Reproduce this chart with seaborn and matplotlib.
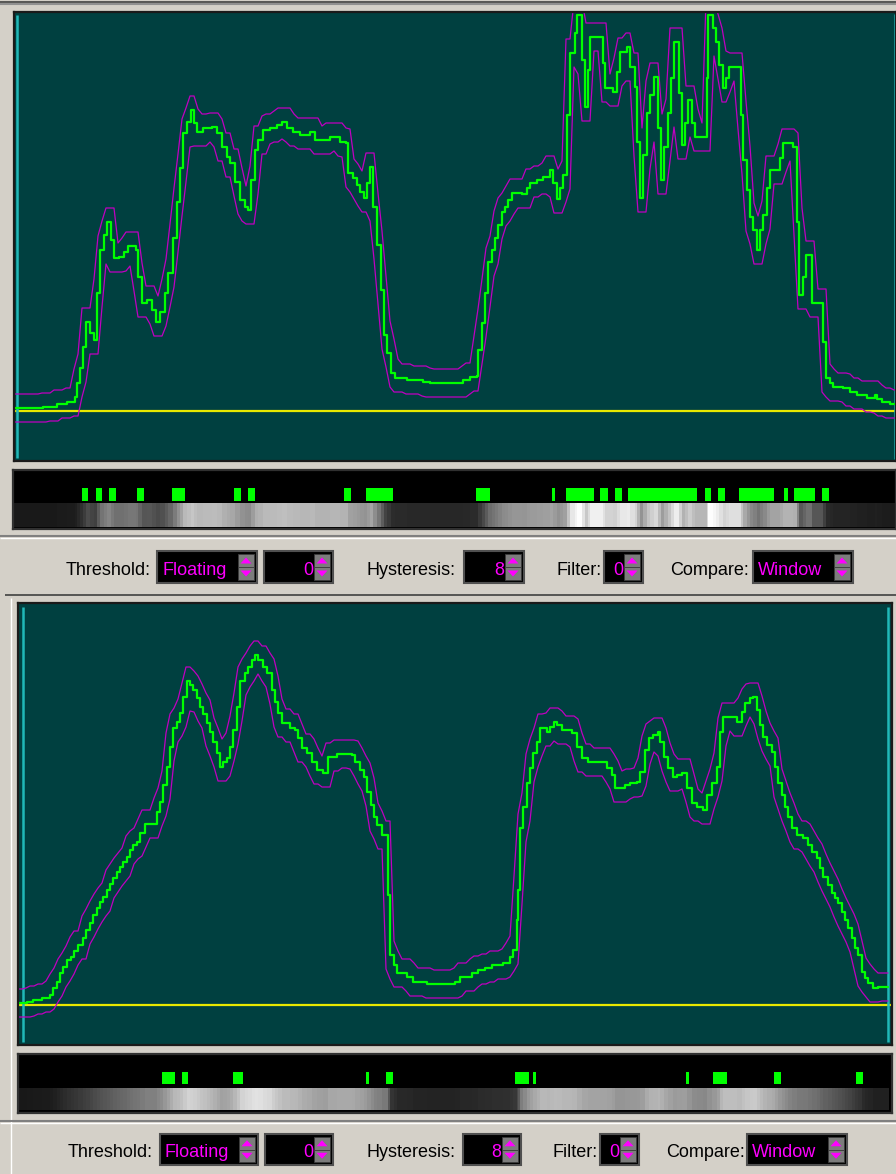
import numpy as np
import matplotlib
matplotlib.use("Agg")
import matplotlib.pyplot as plt
from matplotlib import font_manager
from matplotlib.patches import Rectangle, Polygon
import seaborn as sns

# upper trace: sample column and signal level above the yellow reference line
top_x = [14, 43, 57, 67, 75, 77, 80, 83, 86, 90,
         94, 97, 100, 104, 107, 111, 114, 119, 124, 128,
         136, 138, 142, 147, 152, 156, 160, 165, 168, 173,
         177, 180, 183, 187, 191, 194, 197, 203, 212, 217,
         222, 227, 230, 235, 240, 245, 248, 251, 255, 258,
         263, 270, 277, 282, 287, 293, 300, 310, 315, 330,
         340, 346, 348, 353, 357, 360, 364, 367, 370, 373,
         377, 381, 384, 387, 391, 395, 407, 423, 430, 463,
         470, 477, 478, 482, 485, 488, 492, 495, 498, 502,
         505, 508, 512, 522, 527, 530, 537, 543, 550, 553,
         557, 560, 563, 567, 570, 575, 577, 582, 585, 588,
         590, 603, 605, 613, 617, 620, 627, 630, 635, 637,
         640, 643, 647, 650, 654, 658, 661, 664, 668, 671,
         674, 679, 682, 685, 688, 692, 695, 707, 708, 713,
         716, 719, 723, 726, 729, 741, 743, 747, 750, 753,
         757, 760, 763, 767, 770, 780, 783, 793, 797, 799,
         803, 806, 812, 823, 826, 830, 833, 843, 850, 857,
         867, 875, 877, 882, 890]
top_level = [3, 4, 7, 9, 14, 28, 43, 64, 89, 78,
             71, 118, 161, 176, 189, 171, 153, 154, 159, 165,
             161, 134, 108, 111, 101, 89, 99, 118, 138, 173,
             209, 243, 278, 289, 301, 288, 279, 283, 284, 278,
             264, 254, 248, 229, 211, 204, 201, 231, 261, 271,
             281, 283, 286, 289, 283, 279, 276, 279, 271, 274,
             269, 268, 238, 233, 226, 219, 213, 228, 244, 204,
             166, 121, 76, 58, 38, 33, 31, 29, 28, 31,
             34, 35, 61, 88, 118, 149, 161, 173, 186, 199,
             204, 211, 218, 217, 223, 228, 231, 234, 241, 228,
             212, 223, 236, 296, 358, 378, 396, 351, 304, 341,
             374, 348, 323, 319, 339, 359, 364, 344, 324, 269,
             213, 256, 298, 316, 334, 283, 231, 264, 298, 333,
             369, 318, 266, 288, 311, 288, 274, 333, 396, 383,
             369, 346, 323, 333, 344, 296, 251, 221, 194, 181,
             161, 181, 196, 223, 241, 253, 268, 264, 189, 116,
             134, 156, 108, 69, 33, 28, 24, 23, 19, 16,
             13, 16, 12, 9, 7]

# lower trace
bottom_x = [18, 27, 33, 42, 50, 53, 57, 60, 63, 67,
            71, 74, 78, 83, 86, 90, 93, 97, 100, 103,
            107, 110, 113, 117, 120, 123, 127, 130, 133, 137,
            140, 145, 157, 160, 163, 167, 170, 173, 177, 180,
            183, 187, 190, 193, 197, 200, 203, 207, 210, 213,
            217, 220, 223, 227, 230, 233, 237, 240, 245, 248,
            252, 255, 258, 263, 267, 272, 275, 278, 282, 290,
            295, 298, 302, 307, 312, 317, 323, 328, 337, 352,
            355, 360, 364, 367, 371, 374, 377, 382, 388, 390,
            394, 397, 407, 413, 427, 455, 460, 472, 478, 485,
            492, 503, 510, 513, 517, 518, 520, 523, 527, 530,
            533, 537, 540, 547, 550, 554, 557, 562, 572, 577,
            582, 588, 607, 612, 615, 625, 630, 637, 640, 645,
            649, 653, 658, 660, 664, 668, 673, 677, 682, 687,
            692, 697, 703, 707, 712, 717, 720, 723, 737, 742,
            745, 750, 753, 757, 760, 763, 767, 772, 775, 778,
            782, 785, 788, 792, 797, 803, 808, 812, 817, 820,
            823, 828, 832, 835, 838, 842, 845, 848, 852, 855,
            858, 862, 865, 868, 873, 878]
bottom_level = [2, 3, 5, 7, 10, 17, 23, 32, 38, 45,
                48, 54, 60, 67, 75, 82, 90, 97, 103, 108,
                115, 121, 127, 133, 138, 143, 148, 155, 160, 163,
                172, 181, 193, 203, 220, 238, 258, 277, 283, 292,
                308, 324, 320, 315, 307, 298, 291, 282, 273, 263,
                252, 238, 243, 247, 258, 275, 298, 324, 332, 338,
                345, 350, 345, 338, 332, 315, 303, 292, 282, 277,
                275, 267, 257, 252, 243, 235, 232, 248, 251, 250,
                243, 235, 228, 213, 200, 188, 180, 170, 110, 50,
                40, 32, 28, 23, 21, 23, 28, 32, 35, 37,
                40, 42, 48, 55, 85, 115, 177, 198, 222, 237,
                252, 263, 277, 273, 278, 283, 280, 275, 272, 258,
                247, 243, 237, 230, 217, 220, 222, 223, 233, 255,
                267, 270, 273, 263, 248, 237, 228, 230, 232, 217,
                202, 198, 195, 210, 222, 238, 273, 288, 283, 293,
                302, 307, 308, 295, 280, 268, 260, 253, 238, 222,
                210, 198, 188, 177, 170, 167, 160, 153, 147, 137,
                128, 120, 112, 107, 102, 93, 85, 77, 67, 57,
                50, 33, 27, 22, 17, 18]

# green detection marks in the strip under each trace (first / last column)
top_mark_start = [82, 96, 109, 137, 172, 234, 248, 344, 366, 476, 552,
                  566, 600, 615, 628, 705, 718, 739, 784, 794, 822]
top_mark_end = [88, 102, 116, 144, 185, 241, 255, 351, 393, 490, 555,
                594, 608, 622, 697, 711, 725, 774, 788, 815, 829]
bottom_mark_start = [162, 182, 233, 366, 386, 515, 533, 686, 713, 774, 856]
bottom_mark_end = [175, 188, 243, 369, 393, 529, 536, 689, 727, 781, 863]

control_labels = ["Threshold:", "Hysteresis:", "Filter:", "Compare:"]
control_values = ["Floating", "0", "8", "0", "Window"]

window_half = 4      # columns on each side used for the window envelope
window_margin = 14   # level added above / below the window

BG = "#D4D0C8"
TEAL = "#004040"
GREEN = "#00FF00"
MAGENTA = "#C000C0"
YELLOW = "#E8E800"
CYAN = "#20B8B8"

sns.set_style("white")
available = {f.name for f in font_manager.fontManager.ttflist}
if "Liberation Sans Narrow" in available:
    UI_FONT, FS = "Liberation Sans Narrow", 15.5
else:
    UI_FONT, FS = "Liberation Sans", 13
plt.rcParams["font.family"] = [UI_FONT, "DejaVu Sans"]

W, H = 896, 1174
fig = plt.figure(figsize=(W / 100, H / 100), dpi=100, facecolor=BG)
ui = fig.add_axes([0, 0, 1, 1])
ui.set_xlim(0, W)
ui.set_ylim(H, 0)
ui.axis("off")


def px_rect(l, t, r, b):
    return [l / W, 1 - b / H, (r - l) / W, (b - t) / H]


def step_values(xs, levels, cols):
    idx = np.searchsorted(xs, cols, side="right") - 1
    return np.asarray(levels)[np.clip(idx, 0, len(levels) - 1)]


def draw_trace(box, xs, levels, x_end, ylim, cyan):
    ax = fig.add_axes(px_rect(*box))
    ax.set_facecolor(TEAL)
    cols = np.arange(xs[0], x_end + 1)
    sig = step_values(xs, levels, cols)
    win = np.lib.stride_tricks.sliding_window_view(
        np.pad(sig, window_half, mode="edge"), 2 * window_half + 1)
    upper = win.max(axis=1) + window_margin
    lower = win.min(axis=1) - window_margin
    keep = np.unique(np.r_[np.arange(0, len(cols), 4), len(cols) - 1])

    ax.axhline(0, color=YELLOW, lw=1.6, zorder=1)
    for c, y0, y1 in cyan:
        ax.vlines(c, y0, y1, color=CYAN, lw=1.8, zorder=1)
    sns.lineplot(x=cols[keep], y=upper[keep], ax=ax, color=MAGENTA, lw=0.9,
                 estimator=None, sort=False)
    sns.lineplot(x=cols[keep], y=lower[keep], ax=ax, color=MAGENTA, lw=0.9,
                 estimator=None, sort=False)
    sns.lineplot(x=np.r_[xs, x_end], y=np.r_[levels, levels[-1]], ax=ax,
                 color=GREEN, lw=1.6, drawstyle="steps-post",
                 estimator=None, sort=False)
    ax.set_xlim(box[0], box[2])
    ax.set_ylim(*ylim)
    ax.set_xticks([])
    ax.set_yticks([])
    ax.set_xlabel("")
    ax.set_ylabel("")
    for sp in ax.spines.values():
        sp.set_color("#1A1A1A")
        sp.set_linewidth(1.6)
    return cols, sig


def draw_strip(box, band, marks, cols, sig, starts, ends):
    ax = fig.add_axes(px_rect(*box))
    ax.set_facecolor("black")
    ax.imshow(sig[np.newaxis, :], cmap="gray", vmin=-40, vmax=400,
              aspect="auto", interpolation="nearest",
              extent=[cols[0] - 0.5, cols[-1] + 0.5, band[1], band[0]])
    ax.broken_barh([(s, e - s) for s, e in zip(starts, ends)],
                   (marks[0], marks[1] - marks[0]), facecolors=GREEN,
                   edgecolors="none", linewidth=0)
    ax.set_xlim(box[0], box[2])
    ax.set_ylim(box[3], box[1])
    ax.set_xticks([])
    ax.set_yticks([])
    for sp in ax.spines.values():
        sp.set_color("#303030")
        sp.set_linewidth(1.6)


def draw_spinner(x0, x1, y0, y1):
    ym = (y0 + y1) / 2
    for ya, yb, up in ((y0, ym, True), (ym, y1, False)):
        ui.add_patch(Rectangle((x0, ya), x1 - x0, yb - ya, fc="#7C7C7C",
                               ec="#3C3C3C", lw=0.6))
        cx, cy = (x0 + x1) / 2, (ya + yb) / 2
        if up:
            pts = [(cx - 5.5, cy + 3), (cx + 5.5, cy + 3), (cx, cy - 3)]
        else:
            pts = [(cx - 5.5, cy - 3), (cx + 5.5, cy - 3), (cx, cy + 3)]
        ui.add_patch(Polygon(pts, closed=True, fc="#FF00FF", ec="none"))


def draw_controls(bar_top, bar_bot, box_top, box_bot, baseline, label_x, boxes):
    ui.add_patch(Rectangle((0, bar_top), W, bar_bot - bar_top, fc=BG, ec="none"))
    ui.hlines(bar_top, 0, W, color="#808080", lw=1.5)
    ui.hlines(bar_top + 1.5, 0, W, color="white", lw=1)
    for i, (text, lx) in enumerate(zip(control_labels, label_x)):
        ui.text(lx, baseline, text, ha="right" if i == 0 else "left",
                va="baseline", fontsize=FS, color="black")
    for value, (x0, x1) in zip(control_values, boxes):
        ui.add_patch(Rectangle((x0, box_top), x1 - x0, box_bot - box_top,
                               fc="black", ec="#505050", lw=1.5))
        sx1 = x1 - 3
        sx0 = sx1 - 16
        draw_spinner(sx0, sx1, box_top + 3, box_bot - 3)
        if value.isdigit():
            ui.text(sx0 - 1, baseline, value, ha="right", va="baseline",
                    fontsize=FS, color="#FF00FF")
        else:
            ui.text(x0 + 5, baseline, value, ha="left", va="baseline",
                    fontsize=FS, color="#FF00FF")


# window chrome
ui.hlines(1.5, 0, W, color="#404040", lw=1.2)
ui.hlines(4, 0, W, color="#909090", lw=1.5)
ui.hlines(595, 5, W, color="#404040", lw=1.2)
ui.vlines(11, 598, H, color="white", lw=1)

cols1, sig1 = draw_trace((14, 12, 896, 461), top_x, top_level, 896, (-50, 399),
                         [(16.5, -47, 396), (895, -48, 397)])
draw_strip((13, 470, 896, 529), (503, 527), (488, 501), cols1, sig1,
           top_mark_start, top_mark_end)
draw_controls(536, 595, 551, 583, 575, [151, 366, 556, 670],
              [(157, 257), (264, 333), (464, 524), (604, 643), (753, 853)])

cols2, sig2 = draw_trace((18, 603, 892, 1045), bottom_x, bottom_level, 888, (-40, 402),
                         [(22.5, -37, 398), (888, -37, 398)])
draw_strip((18, 1054, 892, 1113), (1088, 1110), (1072, 1084), cols2, sig2,
           bottom_mark_start, bottom_mark_end)
draw_controls(1121, 1174, 1134, 1165, 1157, [153, 366, 553, 666],
              [(160, 258), (265, 333), (463, 521), (600, 639), (747, 847)])

fig.savefig("out.png", dpi=100, facecolor=BG)
